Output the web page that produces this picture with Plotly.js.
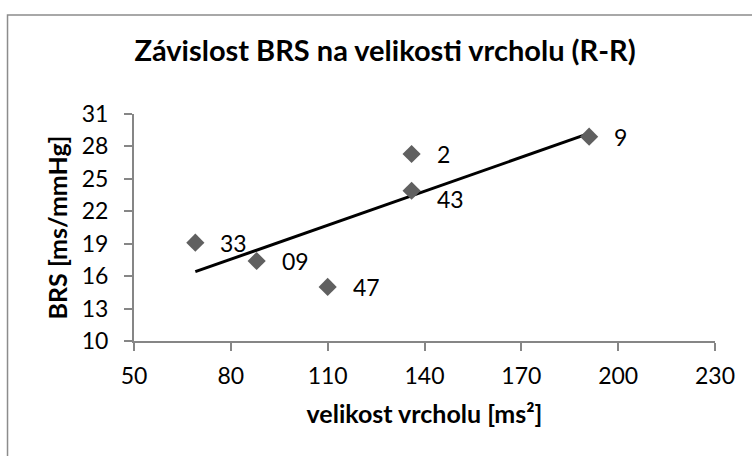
<!DOCTYPE html>
<html>
<head>
<meta charset="utf-8">
<script src="https://cdn.plot.ly/plotly-3.0.1.min.js"></script>
<style>
html,body{margin:0;padding:0;background:#fff;}
#chart{width:752px;height:456px;}
</style>
</head>
<body>
<div id="chart"></div>
<script>
// ---- data ----
const peakSize = [69, 88, 110, 136, 136, 191];        // velikost vrcholu [ms²]
const brsValues = [19.1, 17.4, 15.0, 27.3, 23.9, 28.9]; // BRS [ms/mmHg]
const pointLabels = ['33', '09', '47', '2', '43', '9'];
const xTickVals = [50, 80, 110, 140, 170, 200, 230];
const yTickVals = [10, 13, 16, 19, 22, 25, 28, 31];

// ---- linear trendline (least squares, as Excel) ----
const n = peakSize.length;
const mx = peakSize.reduce((a, b) => a + b, 0) / n;
const my = brsValues.reduce((a, b) => a + b, 0) / n;
let sxy = 0, sxx = 0;
for (let i = 0; i < n; i++) {
  sxy += (peakSize[i] - mx) * (brsValues[i] - my);
  sxx += (peakSize[i] - mx) ** 2;
}
const slope = sxy / sxx;
const intercept = my - slope * mx;
const trendX = [Math.min(...peakSize), Math.max(...peakSize)];
const trendY = trendX.map(x => intercept + slope * x);

const FONT = 'Lato, "Open Sans", sans-serif';
const AXIS_COLOR = '#868686';

const points = {
  x: peakSize, y: brsValues, type: 'scatter', mode: 'markers',
  marker: {symbol: 'diamond', size: 14, color: '#606060'},
  hoverinfo: 'skip', showlegend: false
};
const trend = {
  x: trendX, y: trendY, type: 'scatter', mode: 'lines',
  line: {color: '#000000', width: 3},
  hoverinfo: 'skip', showlegend: false
};

// label offsets (style only)
const labelYShift = {'43': -8};
const annotations = pointLabels.map((t, i) => ({
  x: peakSize[i], y: brsValues[i], xref: 'x', yref: 'y',
  text: t, showarrow: false, xanchor: 'left', yanchor: 'middle',
  xshift: 23, yshift: labelYShift[t] || 0,
  font: {family: FONT, size: 23, color: '#000'}
}));

const layout = {
  width: 752, height: 456,
  margin: {l: 134, r: 37, t: 114, b: 115, pad: 0},
  paper_bgcolor: '#ffffff', plot_bgcolor: '#ffffff',
  font: {family: FONT, color: '#000'},
  title: {
    text: '<b>Závislost BRS na velikosti vrcholu (R-R)</b>',
    font: {family: FONT, size: 29, color: '#000'},
    x: 0.512, xref: 'container', xanchor: 'center',
    y: 1 - 51 / 456, yref: 'container', yanchor: 'middle'
  },
  xaxis: {
    range: [50, 230], tickvals: xTickVals, ticktext: xTickVals.map(String),
    showgrid: false, zeroline: false, showline: true,
    linecolor: AXIS_COLOR, linewidth: 2,
    ticks: 'outside', ticklen: 8, tickwidth: 2, tickcolor: AXIS_COLOR,
    tickfont: {family: FONT, size: 23, color: '#000'},
    ticklabelstandoff: 5,
    title: {text: '<b>velikost vrcholu [ms²]</b>', font: {family: FONT, size: 25, color: '#000'}, standoff: 18}
  },
  yaxis: {
    range: [10, 31], tickvals: yTickVals, ticktext: yTickVals.map(String),
    showgrid: false, zeroline: false, showline: true,
    linecolor: AXIS_COLOR, linewidth: 2,
    ticks: 'outside', ticklen: 8, tickwidth: 2, tickcolor: AXIS_COLOR,
    tickfont: {family: FONT, size: 23, color: '#000'},
    ticklabelstandoff: 11,
    title: {text: '<b>BRS [ms/mmHg]</b>', font: {family: FONT, size: 25, color: '#000'}, standoff: 7}
  },
  shapes: [{
    type: 'path', xref: 'paper', yref: 'paper', layer: 'below',
    path: 'M -0.2177 -0.6 L -0.2177 1.436 L 1.2 1.436',
    line: {color: '#8c8c8c', width: 1.5}
  }],
  annotations: annotations
};

Plotly.newPlot('chart', [trend, points], layout, {staticPlot: true, displayModeBar: false});
</script>
</body>
</html>
